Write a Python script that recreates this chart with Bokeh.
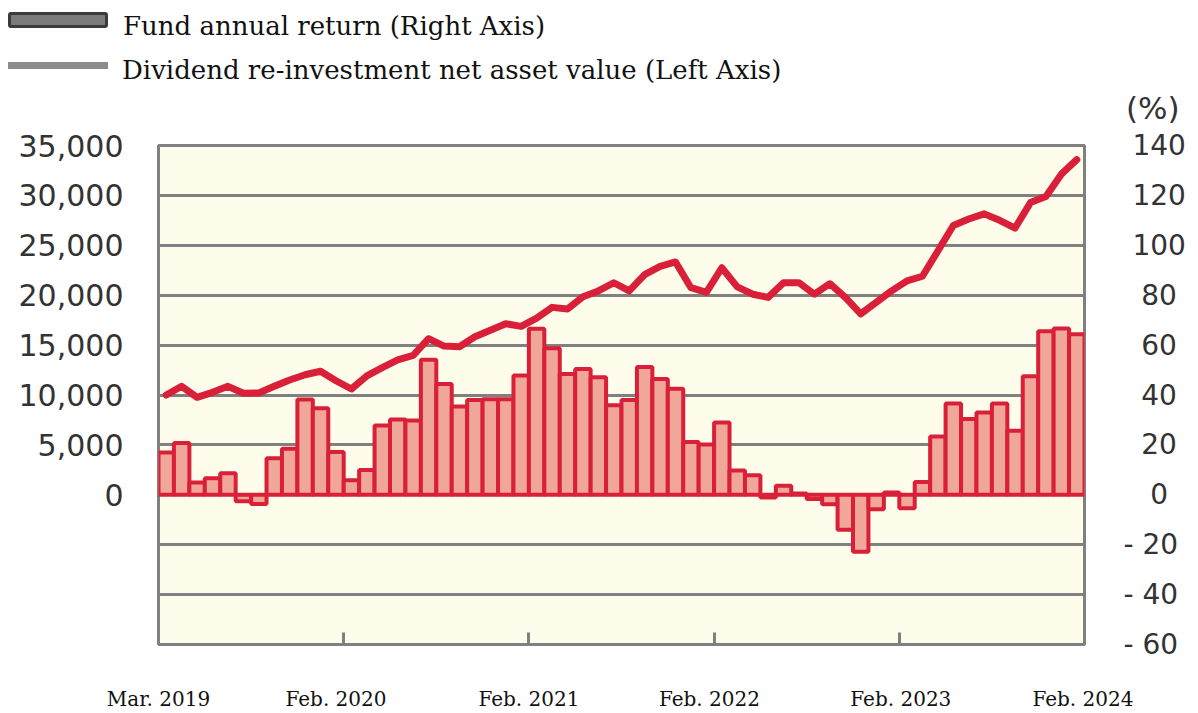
from bokeh.plotting import figure
from bokeh.layouts import column
from bokeh.models import (Range1d, LinearAxis, FixedTicker, ColumnDataSource,
                          NumeralTickFormatter, Div)
from bokeh.embed import file_html
from bokeh.resources import INLINE

# ---- data -------------------------------------------------------------
months = [f"{m} {y}" for y, ms in [(2019, ["Mar", "Apr", "May", "Jun", "Jul", "Aug", "Sep", "Oct", "Nov", "Dec"]),
                                   (2020, ["Jan", "Feb", "Mar", "Apr", "May", "Jun", "Jul", "Aug", "Sep", "Oct", "Nov", "Dec"]),
                                   (2021, ["Jan", "Feb", "Mar", "Apr", "May", "Jun", "Jul", "Aug", "Sep", "Oct", "Nov", "Dec"]),
                                   (2022, ["Jan", "Feb", "Mar", "Apr", "May", "Jun", "Jul", "Aug", "Sep", "Oct", "Nov", "Dec"]),
                                   (2023, ["Jan", "Feb", "Mar", "Apr", "May", "Jun", "Jul", "Aug", "Sep", "Oct", "Nov", "Dec"]),
                                   (2024, ["Jan", "Feb"])] for m in ms]

# Fund annual return (%), right axis -> bars
annual_return = [17.0, 20.8, 4.9, 6.6, 8.6, -2.6, -3.7, 14.6, 18.5, 38.2,
                 34.7, 17.2, 5.8, 9.9, 27.8, 30.2, 29.8, 54.1, 44.4, 35.4,
                 38.0, 38.3, 38.3, 47.8, 66.6, 58.7, 48.4, 50.4, 47.1, 35.9,
                 38.0, 51.2, 46.4, 42.5, 21.2, 20.2, 29.0, 9.7, 7.8, -1.1,
                 3.6, 0.5, -1.7, -3.8, -14.0, -22.8, -5.8, 0.9, -5.4, 5.1,
                 23.4, 36.6, 30.4, 33.0, 36.6, 25.7, 47.5, 65.6, 66.7, 64.3]

# Dividend re-investment NAV, left axis -> line
nav = [10000, 10870, 9770, 10270, 10870, 10170, 10200, 10870, 11500, 12030,
       12380, 11430, 10600, 11920, 12750, 13520, 13980, 15640, 14900, 14840,
       15830, 16480, 17140, 16880, 17700, 18780, 18620, 19840, 20430, 21250,
       20430, 22070, 22890, 23330, 20750, 20280, 22750, 20830, 20100, 19780,
       21250, 21250, 20100, 21150, 19780, 18130, 19280, 20430, 21430, 21900,
       24430, 26980, 27630, 28150, 27500, 26730, 29280, 29880, 32130, 33580]

x_tick_labels = ["Mar. 2019", "Feb. 2020", "Feb. 2021", "Feb. 2022", "Feb. 2023", "Feb. 2024"]
x_tick_pos = [0, 11.5, 24, 35.7, 48.1, 59.9]
x_year_marks = [12, 24, 36, 48]
left_ticks = [0, 5000, 10000, 15000, 20000, 25000, 30000, 35000]
right_ticks = [-60, -40, -20, 0, 20, 40, 60, 80, 100, 120, 140]
right_tick_labels = ["- 60", "- 40", "- 20", "0", "20", "40", "60", "80", "100", "120", "140"]
grid_ticks = [-10000, -5000, 0, 5000, 10000, 15000, 20000, 25000, 30000]
legend_labels = ["Fund annual return (Right Axis)", "Dividend re-investment net asset value (Left Axis)"]
unit_label = "(%)"

# ---- styles -----------------------------------------------------------
RED = "#DA2038"
BAR_FILL = "#F0A698"
GRID = "#808080"
BG = "#FEFCEB"
NUM_FONT = "DejaVu Sans"
SERIF = "DejaVu Serif"
HEAD_H = 125

# ---- header: legend + unit text ---------------------------------------
head_html = f"""
<div style="position:relative;width:1198px;height:{HEAD_H}px;background:white;margin:0;padding:0;overflow:hidden;">
  <div style="position:absolute;left:8px;top:12px;width:100px;height:16px;box-sizing:border-box;
              background:#7a7a7a;border:3px solid #3a3a3a;border-radius:3px;"></div>
  <div style="position:absolute;left:123px;top:11px;font-family:'{SERIF}';font-size:26px;
              line-height:30px;color:#111111;white-space:nowrap;">{legend_labels[0]}</div>
  <div style="position:absolute;left:8px;top:62px;width:100px;height:7px;background:#8c8c8c;"></div>
  <div style="position:absolute;left:122px;top:55px;font-family:'{SERIF}';font-size:26px;
              line-height:30px;color:#111111;white-space:nowrap;">{legend_labels[1]}</div>
  <div style="position:absolute;left:1126px;top:91px;font-family:'{NUM_FONT}';font-size:31px;
              line-height:34px;color:#333333;white-space:nowrap;">{unit_label}</div>
</div>
"""
head = Div(text=head_html, width=1198, height=HEAD_H, margin=(0, 0, 0, 0))

# ---- main chart -------------------------------------------------------
src = ColumnDataSource(dict(x=[i + 0.5 for i in range(len(months))],
                            month=months, ret=annual_return, nav=nav))

p = figure(width=1198, height=713 - HEAD_H, output_backend="svg", toolbar_location=None,
           x_range=Range1d(0, 60), y_range=Range1d(-15000, 35000),
           min_border_left=158, min_border_right=114, min_border_top=145 - HEAD_H,
           min_border_bottom=62)
p.extra_y_ranges = {"pct": Range1d(-60, 140)}
p.background_fill_color = BG
p.border_fill_color = "white"
p.outline_line_color = GRID
p.outline_line_width = 3

p.xgrid.grid_line_color = None
p.ygrid.ticker = FixedTicker(ticks=grid_ticks)
p.ygrid.grid_line_color = GRID
p.ygrid.grid_line_width = 3

p.vbar(x="x", top="ret", bottom=0, width=1, source=src, y_range_name="pct",
       fill_color=BAR_FILL, line_color=RED, line_width=4)
p.line(x="x", y="nav", source=src, line_color=RED, line_width=7, line_join="round", line_cap="round")

# left axis
ya = p.yaxis[0]
ya.ticker = FixedTicker(ticks=left_ticks)
ya.formatter = NumeralTickFormatter(format="0,0")
ya.axis_line_color = None
ya.major_tick_line_color = None
ya.minor_tick_line_color = None
ya.major_label_standoff = 29
ya.major_label_text_font = NUM_FONT
ya.major_label_text_font_size = "30px"
ya.major_label_text_color = "#333333"

# right axis
NB = "\u00a0"
overrides = {}
for t, lab in zip(right_ticks, right_tick_labels):
    if t < 0:
        overrides[t] = lab.replace(" ", NB)
    else:
        pad = {3: 1, 2: 2, 1: 3}[len(lab)]
        overrides[t] = NB * pad + lab
ra = LinearAxis(y_range_name="pct", ticker=FixedTicker(ticks=right_ticks),
                major_label_overrides=overrides)
ra.axis_line_color = None
ra.major_tick_line_color = None
ra.minor_tick_line_color = None
ra.major_label_standoff = 33
ra.major_label_text_font = NUM_FONT
ra.major_label_text_font_size = "28px"
ra.major_label_text_color = "#333333"
p.add_layout(ra, "right")

# bottom axis
xa = p.xaxis[0]
xa.ticker = FixedTicker(ticks=x_tick_pos, minor_ticks=x_year_marks)
xa.major_label_overrides = {t: lab for t, lab in zip(x_tick_pos, x_tick_labels)}
xa.axis_line_color = None
xa.major_tick_line_color = None
xa.minor_tick_in = 12
xa.minor_tick_out = 0
xa.minor_tick_line_color = GRID
xa.minor_tick_line_width = 3
xa.major_label_standoff = 36
xa.major_label_text_font = SERIF
xa.major_label_text_font_size = "20px"
xa.major_label_text_color = "#111111"

layout = column(head, p, spacing=0)
open("out.html", "w").write(file_html(layout, INLINE))
